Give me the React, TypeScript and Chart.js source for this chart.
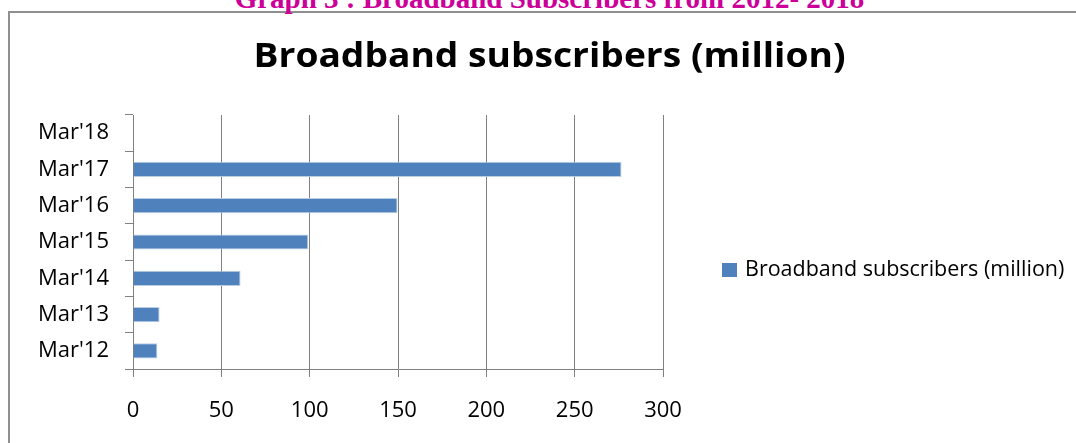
import React, { useEffect, useRef } from "react";
import { Chart, registerables } from "chart.js";

Chart.register(...registerables);

const categories = ["Mar'12", "Mar'13", "Mar'14", "Mar'15", "Mar'16", "Mar'17", "Mar'18"];
const subscribers: (number | null)[] = [13.79, 15.05, 60.87, 99.2, 149.75, 276.52, null];
const seriesLabel = "Broadband subscribers (million)";
const chartTitle = "Broadband subscribers (million)";
const pageHeading = "Graph 3 : Broadband Subscribers from 2012- 2018";
const xMin = 0;
const xMax = 300;
const xStep = 50;

const BAR = "#4F81BD";
const GRID = "#808080";
const FONT = "'Open Sans'";

const decorPlugin = {
  id: "decor",
  afterDraw(chart: any) {
    const ctx = chart.ctx;
    const ds = chart.data.datasets[0];
    ctx.save();
    // chart title
    ctx.fillStyle = "#000";
    ctx.font = `bold 34px ${FONT}`;
    ctx.textAlign = "center";
    ctx.textBaseline = "alphabetic";
    const w = ctx.measureText(chartTitle).width;
    const sx = 592 / w;
    ctx.translate(549.5, 67);
    ctx.scale(sx, 1);
    ctx.fillText(chartTitle, 0, 0);
    ctx.restore();
    ctx.save();
    // legend
    ctx.fillStyle = ds.backgroundColor;
    ctx.fillRect(722, 263, 15, 14);
    ctx.fillStyle = "#000";
    ctx.font = `21.5px ${FONT}`;
    ctx.textBaseline = "middle";
    ctx.textAlign = "left";
    ctx.fillText(ds.label, 745, 270);
    ctx.restore();
  },
};

export default function App() {
  const ref = useRef<HTMLCanvasElement | null>(null);

  useEffect(() => {
    if (!ref.current) return;
    const chart = new Chart(ref.current, {
      type: "bar",
      data: {
        labels: categories,
        datasets: [
          {
            label: seriesLabel,
            data: subscribers,
            backgroundColor: BAR,
            borderColor: "#b9cde5",
            borderWidth: 1,
            categoryPercentage: 0.42,
            barPercentage: 1,
          },
        ],
      },
      options: {
        indexAxis: "y",
        responsive: false,
        animation: false,
        devicePixelRatio: 1,
        layout: { padding: { left: 0, right: 436, top: 115, bottom: 0 } },
        plugins: {
          legend: { display: false },
          tooltip: { enabled: false },
          title: { display: false },
        },
        scales: {
          x: {
            type: "linear",
            min: xMin,
            max: xMax,
            ticks: {
              stepSize: xStep,
              color: "#000",
              font: { family: FONT, size: 22 },
              padding: 21,
            },
            grid: {
              color: GRID,
              lineWidth: 1,
              drawTicks: true,
              tickLength: 8,
              tickColor: GRID,
            },
            border: { display: true, color: GRID, width: 1 },
            afterFit: (s: any) => {
              s.height = 74;
            },
          },
          y: {
            type: "category",
            reverse: true,
            offset: true,
            ticks: {
              color: "#000",
              font: { family: FONT, size: 22 },
              padding: 16,
            },
            grid: {
              offset: true,
              drawOnChartArea: false,
              drawTicks: true,
              tickLength: 8,
              color: GRID,
              tickColor: GRID,
            },
            border: { display: true, color: GRID, width: 1 },
            afterFit: (s: any) => {
              s.width = 133;
            },
          },
        },
      },
      plugins: [decorPlugin],
    });
    return () => chart.destroy();
  }, []);

  return (
    <div
      style={{
        position: "fixed",
        left: 0,
        top: 0,
        width: 1076,
        height: 443,
        overflow: "hidden",
        background: "#fff",
      }}
    >
      <div
        style={{
          position: "absolute",
          left: 8,
          top: 11,
          width: 1300,
          height: 800,
          borderLeft: "2px solid #8f8f8f",
          borderTop: "2px solid #8f8f8f",
        }}
      />
      <div
        style={{
          position: "absolute",
          left: 0,
          top: -16,
          width: 1099,
          textAlign: "center",
          fontFamily: "'Liberation Serif'",
          fontWeight: "bold",
          fontSize: 29,
          lineHeight: "29px",
          color: "#cc0099",
          whiteSpace: "nowrap",
        }}
      >
        {pageHeading}
      </div>
      <canvas
        ref={ref}
        width={1099}
        height={443}
        style={{ position: "absolute", left: 0, top: 0, width: 1099, height: 443 }}
      />
    </div>
  );
}
